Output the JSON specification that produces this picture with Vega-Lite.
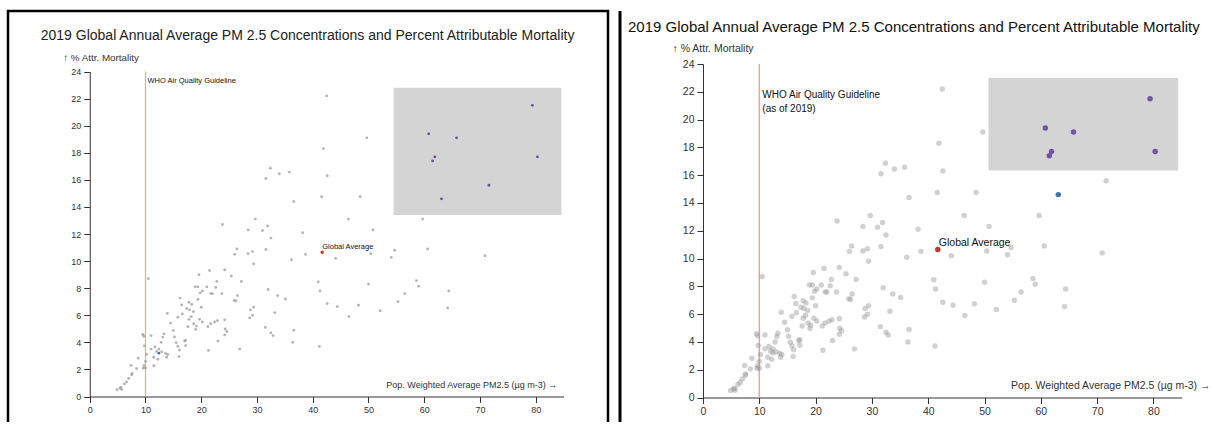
{
  "$schema": "https://vega.github.io/schema/vega-lite/v6.json",
  "padding": {"left": 6, "top": 9, "right": 0, "bottom": 0},
  "spacing": 8,
  "config": {"font": "Liberation Sans", "view": {"stroke": null}, "axis": {"grid": false, "domainColor": "#333", "tickColor": "#333", "labelColor": "#333", "titleColor": "#333", "titleFontWeight": "normal", "labelFlush": false, "labelOverlap": false, "tickSize": 6, "labelPadding": 3}},
  "datasets": {
    "pts": [
      {"pm25": 42.5, "mortality": 22.2}, {"pm25": 41.9, "mortality": 18.3}, {"pm25": 49.7, "mortality": 19.1}, {"pm25": 42.6, "mortality": 16.3},
      {"pm25": 32.4, "mortality": 16.86}, {"pm25": 34.0, "mortality": 16.45}, {"pm25": 35.8, "mortality": 16.57}, {"pm25": 31.6, "mortality": 16.1},
      {"pm25": 36.6, "mortality": 14.4}, {"pm25": 41.6, "mortality": 14.75}, {"pm25": 48.5, "mortality": 14.75}, {"pm25": 46.4, "mortality": 13.1},
      {"pm25": 50.8, "mortality": 12.3}, {"pm25": 59.7, "mortality": 13.1}, {"pm25": 71.6, "mortality": 15.6}, {"pm25": 23.8, "mortality": 12.7},
      {"pm25": 29.7, "mortality": 13.1}, {"pm25": 28.4, "mortality": 12.3}, {"pm25": 31.0, "mortality": 12.25}, {"pm25": 31.9, "mortality": 12.6},
      {"pm25": 38.2, "mortality": 12.1}, {"pm25": 32.5, "mortality": 11.7}, {"pm25": 26.4, "mortality": 10.9}, {"pm25": 26.0, "mortality": 10.5},
      {"pm25": 28.4, "mortality": 10.55}, {"pm25": 29.2, "mortality": 10.7}, {"pm25": 31.6, "mortality": 10.86}, {"pm25": 29.4, "mortality": 9.8},
      {"pm25": 36.2, "mortality": 10.1}, {"pm25": 38.7, "mortality": 10.5}, {"pm25": 44.1, "mortality": 10.2}, {"pm25": 50.4, "mortality": 10.55},
      {"pm25": 54.7, "mortality": 10.8}, {"pm25": 54.1, "mortality": 10.27}, {"pm25": 60.6, "mortality": 10.9}, {"pm25": 70.9, "mortality": 10.4},
      {"pm25": 10.5, "mortality": 8.7}, {"pm25": 19.6, "mortality": 9.0}, {"pm25": 21.5, "mortality": 9.3}, {"pm25": 24.2, "mortality": 9.35},
      {"pm25": 25.4, "mortality": 8.9}, {"pm25": 27.2, "mortality": 8.5}, {"pm25": 22.8, "mortality": 8.5}, {"pm25": 32.0, "mortality": 7.9},
      {"pm25": 33.7, "mortality": 7.45}, {"pm25": 35.1, "mortality": 7.2}, {"pm25": 41.0, "mortality": 8.47}, {"pm25": 41.3, "mortality": 7.8},
      {"pm25": 42.6, "mortality": 6.86}, {"pm25": 44.4, "mortality": 6.64}, {"pm25": 48.2, "mortality": 6.74}, {"pm25": 50.0, "mortality": 8.3},
      {"pm25": 52.1, "mortality": 6.33}, {"pm25": 46.5, "mortality": 5.9}, {"pm25": 55.3, "mortality": 7.0}, {"pm25": 56.5, "mortality": 7.6},
      {"pm25": 58.6, "mortality": 8.56}, {"pm25": 59.0, "mortality": 8.15}, {"pm25": 64.4, "mortality": 7.8}, {"pm25": 64.2, "mortality": 6.55},
      {"pm25": 18.9, "mortality": 8.1}, {"pm25": 19.4, "mortality": 8.1}, {"pm25": 21.0, "mortality": 8.1}, {"pm25": 20.2, "mortality": 7.8},
      {"pm25": 19.8, "mortality": 7.65}, {"pm25": 22.6, "mortality": 8.05}, {"pm25": 21.7, "mortality": 7.6}, {"pm25": 22.0, "mortality": 7.6},
      {"pm25": 23.7, "mortality": 7.6}, {"pm25": 25.9, "mortality": 7.1}, {"pm25": 26.2, "mortality": 7.05}, {"pm25": 26.5, "mortality": 7.45},
      {"pm25": 28.8, "mortality": 6.4}, {"pm25": 29.4, "mortality": 6.6}, {"pm25": 28.7, "mortality": 5.8}, {"pm25": 29.2, "mortality": 6.0},
      {"pm25": 31.5, "mortality": 5.1}, {"pm25": 32.5, "mortality": 4.7}, {"pm25": 32.9, "mortality": 4.5}, {"pm25": 33.2, "mortality": 6.2},
      {"pm25": 36.6, "mortality": 4.9}, {"pm25": 36.4, "mortality": 4.0}, {"pm25": 41.2, "mortality": 3.7}, {"pm25": 26.9, "mortality": 3.5},
      {"pm25": 21.3, "mortality": 3.4}, {"pm25": 23.0, "mortality": 4.1}, {"pm25": 24.2, "mortality": 5.66}, {"pm25": 24.3, "mortality": 4.99},
      {"pm25": 24.6, "mortality": 4.8}, {"pm25": 24.2, "mortality": 4.55}, {"pm25": 22.9, "mortality": 5.6}, {"pm25": 22.4, "mortality": 5.5},
      {"pm25": 21.7, "mortality": 5.37}, {"pm25": 21.2, "mortality": 5.15}, {"pm25": 20.2, "mortality": 5.5}, {"pm25": 19.7, "mortality": 5.7},
      {"pm25": 19.0, "mortality": 4.96}, {"pm25": 19.1, "mortality": 5.2}, {"pm25": 18.65, "mortality": 5.37}, {"pm25": 17.8, "mortality": 5.7},
      {"pm25": 17.6, "mortality": 5.15}, {"pm25": 17.9, "mortality": 6.4}, {"pm25": 17.4, "mortality": 6.5}, {"pm25": 18.3, "mortality": 6.8},
      {"pm25": 17.8, "mortality": 6.96}, {"pm25": 19.4, "mortality": 7.17}, {"pm25": 18.6, "mortality": 6.26}, {"pm25": 16.5, "mortality": 6.76},
      {"pm25": 16.2, "mortality": 7.27}, {"pm25": 16.6, "mortality": 6.1}, {"pm25": 15.8, "mortality": 5.85}, {"pm25": 13.9, "mortality": 6.14},
      {"pm25": 14.5, "mortality": 5.42}, {"pm25": 15.0, "mortality": 4.87}, {"pm25": 15.2, "mortality": 4.4}, {"pm25": 15.5, "mortality": 3.98},
      {"pm25": 15.8, "mortality": 3.7}, {"pm25": 16.1, "mortality": 3.43}, {"pm25": 16.0, "mortality": 2.95}, {"pm25": 17.0, "mortality": 4.1},
      {"pm25": 17.2, "mortality": 4.15}, {"pm25": 17.2, "mortality": 3.76}, {"pm25": 13.3, "mortality": 4.63}, {"pm25": 13.1, "mortality": 4.39},
      {"pm25": 12.8, "mortality": 4.0}, {"pm25": 12.4, "mortality": 3.5}, {"pm25": 11.7, "mortality": 3.67}, {"pm25": 12.0, "mortality": 3.33},
      {"pm25": 12.4, "mortality": 3.2}, {"pm25": 13.6, "mortality": 3.19}, {"pm25": 13.8, "mortality": 2.9}, {"pm25": 11.5, "mortality": 2.9},
      {"pm25": 11.5, "mortality": 2.28}, {"pm25": 11.0, "mortality": 3.5}, {"pm25": 11.0, "mortality": 4.5}, {"pm25": 9.5, "mortality": 4.58},
      {"pm25": 9.7, "mortality": 4.45}, {"pm25": 9.8, "mortality": 3.74}, {"pm25": 10.2, "mortality": 3.1}, {"pm25": 10.0, "mortality": 2.6},
      {"pm25": 9.7, "mortality": 2.28}, {"pm25": 10.0, "mortality": 2.1}, {"pm25": 9.6, "mortality": 2.1}, {"pm25": 8.7, "mortality": 2.83},
      {"pm25": 8.4, "mortality": 2.06}, {"pm25": 7.4, "mortality": 2.3}, {"pm25": 7.6, "mortality": 1.7}, {"pm25": 7.5, "mortality": 1.6},
      {"pm25": 7.0, "mortality": 1.34}, {"pm25": 6.6, "mortality": 1.08}, {"pm25": 6.2, "mortality": 0.93}, {"pm25": 5.6, "mortality": 0.67},
      {"pm25": 5.4, "mortality": 0.62}, {"pm25": 4.9, "mortality": 0.5}, {"pm25": 5.7, "mortality": 0.52}, {"pm25": 12.9, "mortality": 3.3},
      {"pm25": 12.2, "mortality": 2.75}, {"pm25": 14.0, "mortality": 3.1}, {"pm25": 18.2, "mortality": 5.9}, {"pm25": 20.0, "mortality": 6.6},
      {"pm25": 60.8, "mortality": 19.4}, {"pm25": 65.8, "mortality": 19.1}, {"pm25": 61.9, "mortality": 17.7}, {"pm25": 61.5, "mortality": 17.4},
      {"pm25": 79.4, "mortality": 21.5}, {"pm25": 80.3, "mortality": 17.7}, {"pm25": 63.1, "mortality": 14.6}
    ],
    "glob": [{"pm25": 41.7, "mortality": 10.65, "label": "Global Average"}],
    "who": [{"pm25": 10, "label": "WHO Air Quality Guideline"}]
  },
  "hconcat": [
    {
      "width": 600,
      "height": 411,
      "view": {"stroke": "#000", "strokeWidth": 2.5, "strokeDash": [1011, 600, 411]},
      "title": {"text": "2019 Global Annual Average PM 2.5 Concentrations and Percent Attributable Mortality", "anchor": "start", "frame": "group", "fontSize": 14, "fontWeight": "normal", "color": "#222", "offset": -42.5, "baseline": "alphabetic", "dx": 32.75},
      "encoding": {
        "x": {"field": "pm25", "type": "quantitative", "scale": {"domain": [0, 85], "range": [81.75, 555.6], "nice": false, "zero": false},
              "axis": {"values": [0, 10, 20, 30, 40, 50, 60, 70, 80], "offset": -25.5, "labelFontSize": 9, "title": "Pop. Weighted Average PM2.5 (µg m-3) →", "titleX": 548.75, "titleY": -9, "titleAlign": "right", "titleBaseline": "alphabetic", "titleFontSize": 9}}
      },
      "layer": [
        {"data": {"name": "who"}, "mark": {"type": "rule", "color": "#f2a0a0", "strokeWidth": 1.2},
         "encoding": {"y": {"datum": 0, "type": "quantitative", "scale": {"domain": [0, 24], "range": [385.5, 60.5], "nice": false, "zero": false},
                            "axis": {"values": [0, 2, 4, 6, 8, 10, 12, 14, 16, 18, 20, 22, 24], "offset": -81.75, "labelFontSize": 9, "title": "↑ % Attr. Mortality", "titleAngle": 0, "titleAlign": "left", "titleBaseline": "middle", "titleX": -27, "titleY": 46.5, "titleFontSize": 9.8}},
                      "y2": {"datum": 24}}},
        {"data": {"name": "who"}, "mark": {"type": "text", "align": "left", "baseline": "middle", "dx": 2, "fontSize": 7.5, "color": "#111"},
         "encoding": {"y": {"datum": 23.3, "type": "quantitative", "scale": {"domain": [0, 24], "range": [385.5, 60.5], "nice": false, "zero": false},
                            "axis": {"values": [0, 2, 4, 6, 8, 10, 12, 14, 16, 18, 20, 22, 24], "offset": -81.75, "labelFontSize": 9, "title": "↑ % Attr. Mortality", "titleAngle": 0, "titleAlign": "left", "titleBaseline": "middle", "titleX": -27, "titleY": 46.5, "titleFontSize": 9.8}},
                      "text": {"field": "label"}}},
        {"data": {"name": "pts"},
         "params": [
           {"name": "brushL", "select": {"type": "interval", "encodings": ["x", "y"], "mark": {"fill": "#000", "fillOpacity": 0.17, "stroke": "#000", "strokeOpacity": 0}}, "value": {"x": [54.5, 84.6], "y": [13.4, 22.8]}},
           {"name": "hoverL", "select": {"type": "point", "fields": ["pm25", "mortality"]}, "value": [{"pm25": 12.4, "mortality": 3.2}]}
         ],
         "mark": {"type": "circle", "size": 8},
         "encoding": {
           "y": {"field": "mortality", "type": "quantitative", "scale": {"domain": [0, 24], "range": [385.5, 60.5], "nice": false, "zero": false},
                 "axis": {"values": [0, 2, 4, 6, 8, 10, 12, 14, 16, 18, 20, 22, 24], "offset": -81.75, "labelFontSize": 9, "title": "↑ % Attr. Mortality", "titleAngle": 0, "titleAlign": "left", "titleBaseline": "middle", "titleX": -27, "titleY": 46.5, "titleFontSize": 9.8}},
           "color": {"condition": [{"param": "hoverL", "empty": false, "value": "#3b73b0"}, {"param": "brushL", "empty": false, "value": "#6a4fa0"}], "value": "#999"},
           "opacity": {"condition": [{"param": "hoverL", "empty": false, "value": 1}, {"param": "brushL", "empty": false, "value": 1}], "value": 0.75}
         }},
        {"data": {"name": "glob"}, "mark": {"type": "circle", "size": 12, "color": "#c0392b", "opacity": 1},
         "encoding": {"y": {"field": "mortality", "type": "quantitative", "scale": {"domain": [0, 24], "range": [385.5, 60.5], "nice": false, "zero": false},
                            "axis": {"values": [0, 2, 4, 6, 8, 10, 12, 14, 16, 18, 20, 22, 24], "offset": -81.75, "labelFontSize": 9, "title": "↑ % Attr. Mortality", "titleAngle": 0, "titleAlign": "left", "titleBaseline": "middle", "titleX": -27, "titleY": 46.5, "titleFontSize": 9.8}}}},
        {"data": {"name": "glob"}, "mark": {"type": "text", "align": "left", "baseline": "bottom", "dx": 0, "dy": -1, "fontSize": 7.5, "color": "#111"},
         "encoding": {"y": {"field": "mortality", "type": "quantitative", "scale": {"domain": [0, 24], "range": [385.5, 60.5], "nice": false, "zero": false},
                            "axis": {"values": [0, 2, 4, 6, 8, 10, 12, 14, 16, 18, 20, 22, 24], "offset": -81.75, "labelFontSize": 9, "title": "↑ % Attr. Mortality", "titleAngle": 0, "titleAlign": "left", "titleBaseline": "middle", "titleX": -27, "titleY": 46.5, "titleFontSize": 9.8}},
                      "text": {"field": "label"}}}
      ]
    },
    {
      "width": 592,
      "height": 411,
      "view": {"stroke": "#000", "strokeWidth": 3, "strokeDash": [0, 1595, 411]},
      "title": {"text": "2019 Global Annual Average PM 2.5 Concentrations and Percent Attributable Mortality", "anchor": "start", "frame": "group", "fontSize": 15, "fontWeight": "normal", "color": "#111", "offset": -36, "baseline": "alphabetic", "dx": 8},
      "encoding": {
        "x": {"field": "pm25", "type": "quantitative", "scale": {"domain": [0, 85], "range": [83, 561.6], "nice": false, "zero": false},
              "axis": {"values": [0, 10, 20, 30, 40, 50, 60, 70, 80], "offset": -24.5, "labelFontSize": 10.5, "title": "Pop. Weighted Average PM2.5 (µg m-3) →", "titleX": 590, "titleY": -9.5, "titleAlign": "right", "titleBaseline": "alphabetic", "titleFontSize": 10.5}}
      },
      "layer": [
        {"data": {"name": "who"}, "mark": {"type": "rule", "color": "#f2a0a0", "strokeWidth": 1.5},
         "encoding": {"y": {"datum": 0, "type": "quantitative", "scale": {"domain": [0, 24], "range": [386.5, 53], "nice": false, "zero": false},
                            "axis": {"values": [0, 2, 4, 6, 8, 10, 12, 14, 16, 18, 20, 22, 24], "offset": -83, "labelFontSize": 10.5, "title": "↑ % Attr. Mortality", "titleAngle": 0, "titleAlign": "left", "titleBaseline": "middle", "titleX": -31, "titleY": 37.5, "titleFontSize": 10.5}},
                      "y2": {"datum": 24}}},
        {"data": {"name": "who"}, "mark": {"type": "text", "align": "left", "baseline": "top", "dx": 3, "fontSize": 10, "lineHeight": 14, "color": "#111", "text": ["WHO Air Quality Guideline", "(as of 2019)"]},
         "encoding": {"y": {"datum": 22.1, "type": "quantitative", "scale": {"domain": [0, 24], "range": [386.5, 53], "nice": false, "zero": false},
                            "axis": {"values": [0, 2, 4, 6, 8, 10, 12, 14, 16, 18, 20, 22, 24], "offset": -83, "labelFontSize": 10.5, "title": "↑ % Attr. Mortality", "titleAngle": 0, "titleAlign": "left", "titleBaseline": "middle", "titleX": -31, "titleY": 37.5, "titleFontSize": 10.5}}}},
        {"data": {"name": "pts"},
         "params": [
           {"name": "brushR", "select": {"type": "interval", "encodings": ["x", "y"], "mark": {"fill": "#000", "fillOpacity": 0.17, "stroke": "#000", "strokeOpacity": 0}}, "value": {"x": [50.7, 84.4], "y": [16.33, 23.0]}},
           {"name": "hoverR", "select": {"type": "point", "fields": ["pm25", "mortality"]}, "value": [{"pm25": 63.1, "mortality": 14.6}]}
         ],
         "mark": {"type": "circle", "size": 30},
         "encoding": {
           "y": {"field": "mortality", "type": "quantitative", "scale": {"domain": [0, 24], "range": [386.5, 53], "nice": false, "zero": false},
                 "axis": {"values": [0, 2, 4, 6, 8, 10, 12, 14, 16, 18, 20, 22, 24], "offset": -83, "labelFontSize": 10.5, "title": "↑ % Attr. Mortality", "titleAngle": 0, "titleAlign": "left", "titleBaseline": "middle", "titleX": -31, "titleY": 37.5, "titleFontSize": 10.5}},
           "color": {"condition": [{"param": "hoverR", "empty": false, "value": "#3b73b0"}, {"param": "brushR", "empty": false, "value": "#6f55a5"}], "value": "#999"},
           "opacity": {"condition": [{"param": "hoverR", "empty": false, "value": 1}, {"param": "brushR", "empty": false, "value": 1}], "value": 0.45}
         }},
        {"data": {"name": "glob"}, "mark": {"type": "circle", "size": 30, "color": "#c0392b", "opacity": 1},
         "encoding": {"y": {"field": "mortality", "type": "quantitative", "scale": {"domain": [0, 24], "range": [386.5, 53], "nice": false, "zero": false},
                            "axis": {"values": [0, 2, 4, 6, 8, 10, 12, 14, 16, 18, 20, 22, 24], "offset": -83, "labelFontSize": 10.5, "title": "↑ % Attr. Mortality", "titleAngle": 0, "titleAlign": "left", "titleBaseline": "middle", "titleX": -31, "titleY": 37.5, "titleFontSize": 10.5}}}},
        {"data": {"name": "glob"}, "mark": {"type": "text", "align": "left", "baseline": "bottom", "dx": 1, "dy": -2, "fontSize": 10.5, "color": "#111"},
         "encoding": {"y": {"field": "mortality", "type": "quantitative", "scale": {"domain": [0, 24], "range": [386.5, 53], "nice": false, "zero": false},
                            "axis": {"values": [0, 2, 4, 6, 8, 10, 12, 14, 16, 18, 20, 22, 24], "offset": -83, "labelFontSize": 10.5, "title": "↑ % Attr. Mortality", "titleAngle": 0, "titleAlign": "left", "titleBaseline": "middle", "titleX": -31, "titleY": 37.5, "titleFontSize": 10.5}},
                      "text": {"field": "label"}}}
      ]
    }
  ]
}
